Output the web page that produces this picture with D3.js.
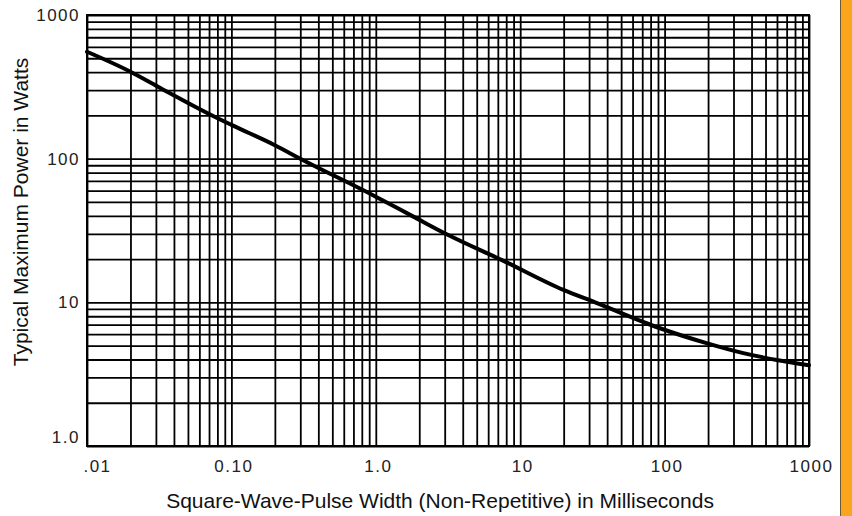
<!DOCTYPE html>
<html>
<head>
<meta charset="utf-8">
<script src="https://cdn.jsdelivr.net/npm/d3@7"></script>
<style>
  body { margin: 0; background: #fff; }
  .tickText { font-family: "Liberation Sans", Arial, sans-serif; font-size: 17px; fill: #222; letter-spacing: 1.5px; }
  .axisText { font-family: "Liberation Sans", Arial, sans-serif; font-size: 21px; fill: #111; }
</style>
</head>
<body>
<div class="chart"></div>
<script>
// Data (pulse width in ms, power in W)
var pulseWidth = [0.01, 0.02, 0.031, 0.0735, 0.1, 0.2, 0.3, 1, 1.82, 3.05, 7.6, 19.9, 33, 93, 195, 351, 597, 1000];
var maxPower   = [555, 403, 317, 200, 172, 124, 100, 54.4, 39.5, 30, 19.5, 12.2, 10, 6.6, 5.2, 4.43, 3.97, 3.65];

var xTickValues = [0.01, 0.1, 1, 10, 100, 1000];
var xTickLabels = [".01", "0.10", "1.0", "10", "100", "1000"];
var yTickValues = [1, 10, 100, 1000];
var yTickLabels = ["1.0", "10", "100", "1000"];

var svgWidth = 852;
var svgHeight = 516;

var margin = { top: 15, right: 43, bottom: 70, left: 87 };
var width = svgWidth - margin.left - margin.right;
var height = svgHeight - margin.top - margin.bottom;

var svg = d3.select(".chart")
  .append("svg")
  .attr("width", svgWidth)
  .attr("height", svgHeight);

// orange strip on the right
svg.append("rect")
  .attr("x", 840)
  .attr("y", 0)
  .attr("width", 12)
  .attr("height", svgHeight)
  .attr("fill", "#fba51c");
svg.append("line")
  .attr("x1", 840.5).attr("x2", 840.5)
  .attr("y1", 0).attr("y2", svgHeight)
  .attr("stroke", "#6b5a3a")
  .attr("stroke-width", 1);

var chartGroup = svg.append("g")
  .attr("transform", `translate(${margin.left}, ${margin.top})`);

var xScale = d3.scaleLog().domain([0.01, 1000]).range([0, width]);
var yScale = d3.scaleLog().domain([1, 1000]).range([height, 0]);

// grid lines (1..9 in every decade)
var xGrid = d3.axisBottom(xScale)
  .tickValues(xScale.ticks())
  .tickSize(-height)
  .tickFormat("");
var yGrid = d3.axisLeft(yScale)
  .tickValues(yScale.ticks())
  .tickSize(-width)
  .tickFormat("");

chartGroup.append("g")
  .attr("transform", `translate(0, ${height})`)
  .call(xGrid)
  .call(g => g.select(".domain").remove())
  .selectAll("line")
  .attr("stroke", "#000")
  .attr("stroke-width", 1.8);

chartGroup.append("g")
  .call(yGrid)
  .call(g => g.select(".domain").remove())
  .selectAll("line")
  .attr("stroke", "#000")
  .attr("stroke-width", 1.8);

// frame
chartGroup.append("rect")
  .attr("width", width)
  .attr("height", height)
  .attr("fill", "none")
  .attr("stroke", "#000")
  .attr("stroke-width", 2);

// tick labels
var bottomAxis = d3.axisBottom(xScale)
  .tickValues(xTickValues)
  .tickSize(0)
  .tickPadding(14)
  .tickFormat((d, i) => xTickLabels[i]);
var leftAxis = d3.axisLeft(yScale)
  .tickValues(yTickValues)
  .tickSize(0)
  .tickPadding(7)
  .tickFormat((d, i) => yTickLabels[i]);

var xAxisG = chartGroup.append("g")
  .attr("transform", `translate(0, ${height})`)
  .call(bottomAxis);
xAxisG.select(".domain").remove();
xAxisG.selectAll("text")
  .attr("class", "tickText")
  .attr("fill", null)
  .attr("font-family", null)
  .attr("font-size", null)
  .attr("dx", (d, i) => i === 0 ? 10 : 2);

var yAxisG = chartGroup.append("g")
  .call(leftAxis);
yAxisG.select(".domain").remove();
yAxisG.selectAll("text")
  .attr("class", "tickText")
  .attr("fill", null)
  .attr("font-family", null)
  .attr("font-size", null)
  .attr("dy", (d, i) => i === 0 ? "-0.2em" : "0.32em");

// curve
var line = d3.line()
  .x((d, i) => xScale(pulseWidth[i]))
  .y(d => yScale(d))
  .curve(d3.curveMonotoneX);

chartGroup.append("path")
  .datum(maxPower)
  .attr("d", line)
  .attr("fill", "none")
  .attr("stroke", "#000")
  .attr("stroke-width", 4)
  .attr("stroke-linejoin", "round")
  .attr("stroke-linecap", "round");

// axis titles
chartGroup.append("text")
  .attr("class", "axisText")
  .attr("text-anchor", "middle")
  .attr("transform", `translate(${440 - margin.left}, ${height + 62})`)
  .text("Square-Wave-Pulse Width (Non-Repetitive) in Milliseconds");

chartGroup.append("text")
  .attr("class", "axisText")
  .attr("text-anchor", "middle")
  .attr("transform", `translate(${-margin.left + 28}, ${212 - margin.top}) rotate(-90)`)
  .text("Typical Maximum Power in Watts");
</script>
</body>
</html>
